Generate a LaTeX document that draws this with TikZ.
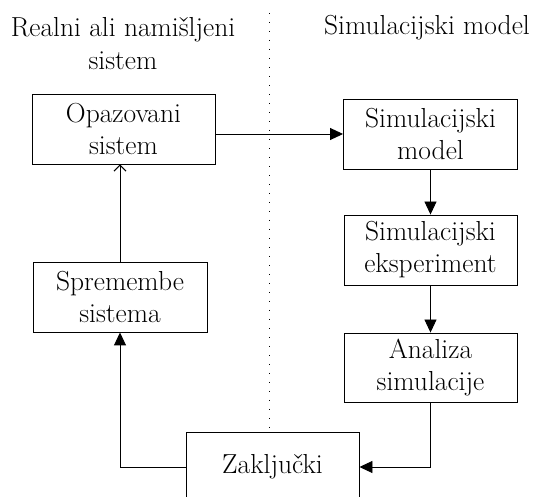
\documentclass[tikz,border=0pt]{standalone}
\usetikzlibrary{arrows.meta}
\begin{document}
\begin{tikzpicture}[x=1pt,y=-1pt,
  boxstyle/.style={draw, line width=0.9pt, inner sep=0pt, align=center,
    font=\fontsize{27.5}{32}\selectfont},
  headstyle/.style={inner sep=0pt, align=center, font=\fontsize{27.5}{33}\selectfont},
  conn/.style={line width=0.9pt, -{Triangle[length=13pt,width=12pt]}},
  openconn/.style={line width=0.9pt, -{Straight Barb[length=6pt,width=12pt,line width=1pt]}}]
\useasboundingbox (0,0) rectangle (539,497);
\clip (0,0) rectangle (539,497);
\node[headstyle] (h1) at (123,44) {Realni ali namišljeni\\sistem};
\node[headstyle] (h2) at (427,28) {Simulacijski model};
\node[boxstyle, minimum width=183pt, minimum height=70pt] (op) at (123.5,129) {Opazovani\\sistem};
\node[boxstyle, minimum width=174pt, minimum height=70pt] (sm) at (430.5,134) {Simulacijski\\model};
\node[boxstyle, minimum width=173pt, minimum height=70pt] (se) at (430.5,250) {Simulacijski\\eksperiment};
\node[boxstyle, minimum width=173pt, minimum height=69pt] (as) at (430.5,367.5) {Analiza\\simulacije};
\node[boxstyle, minimum width=174pt, minimum height=70pt] (sp) at (120,297) {Spremembe\\sistema};
\node[boxstyle, minimum width=173pt, minimum height=70pt] (za) at (272.5,467) {Zaključki};
\coordinate (dtop) at (269,13);
\draw[line width=0.9pt, dash pattern=on 1pt off 8pt] (dtop) -- (dtop |- za.north);
\draw[conn] (op.east |- sm.west) -- (sm.west);
\draw[conn] (sm.south) -- (se.north);
\draw[conn] (se.south) -- (as.north);
\draw[conn] (as.south) |- (za.east);
\draw[conn] (za.west) -| (sp.south);
\draw[openconn] (sp.north) -- (sp.north |- op.south);
\end{tikzpicture}
\end{document}
